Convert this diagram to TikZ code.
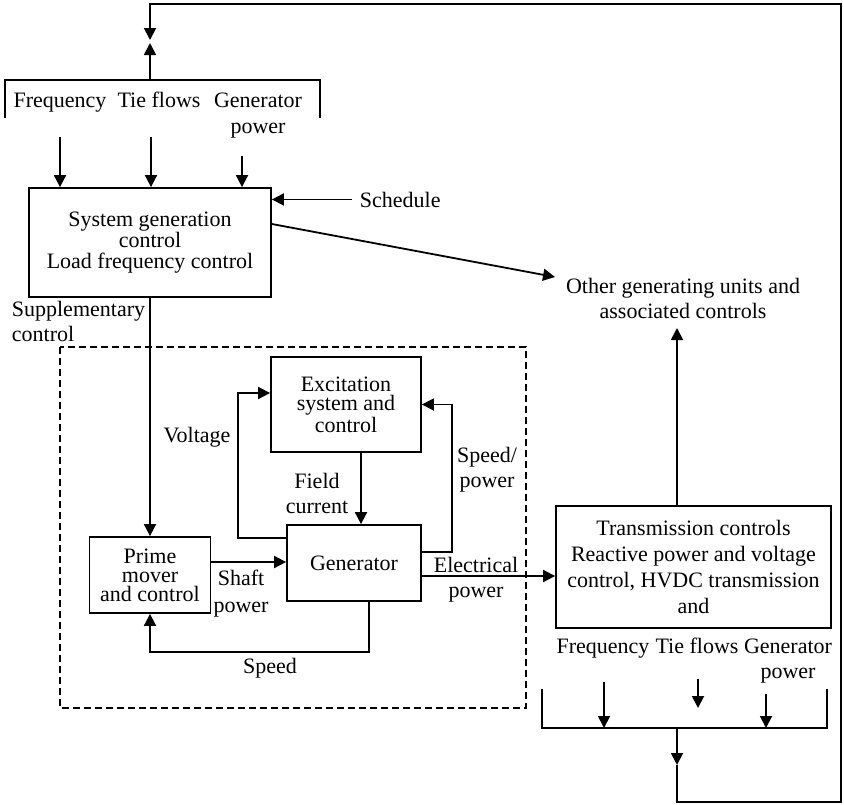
\documentclass[tikz,border=0pt]{standalone}
\usepackage{fontspec}
\setmainfont{Liberation Serif}
\usetikzlibrary{arrows.meta}

\tikzset{
  blk/.style={draw, align=center, inner sep=0pt, font=\fontsize{11}{10.5}\selectfont},
  lbl/.style={align=center, inner sep=1pt, anchor=base, font=\fontsize{11}{12.5}\selectfont},
  arr/.style={-{Triangle[length=6pt,width=6pt]}},
  grp/.style={dash pattern=on 3.5pt off 2pt},
}

\begin{document}
\begin{tikzpicture}[x=0.5pt, y=-0.5pt, line width=0.9pt]
    \useasboundingbox (0,0) rectangle (844,804);

    % Blocks
    \node[blk, minimum width=121pt, minimum height=54.5pt] (sgc) at (150,242.5) {System generation\\control\\Load frequency control};
    \node[blk, minimum width=75pt, minimum height=47.5pt, font=\fontsize{11}{9.5}\selectfont] (exc) at (346,404.5) {Excitation\\system and\\control};
    \node[blk, minimum width=67pt, minimum height=38pt] (gen) at (354,563) {Generator};
    \node[blk, minimum width=60.5pt, minimum height=38pt, font=\fontsize{11}{9.5}\selectfont] (pm) at (150,575) {Prime\\mover\\and control};
    \node[blk, minimum width=137.5pt, minimum height=61pt, font=\fontsize{11}{13}\selectfont] (tc) at (693.5,567) {Transmission controls\\Reactive power and voltage\\control, HVDC transmission\\and};

    % Labels (placed on the baseline of the last line)
    \node[lbl] (freqA) at (60,107) {Frequency};
    \node[lbl] (tieA) at (159,107) {Tie flows};
    \node[lbl, font=\fontsize{11}{13}\selectfont] (genA) at (258,133) {Generator\\power};
    \node[lbl, anchor=base west] (sched) at (357,207) {Schedule};
    \node[lbl] (ogu) at (683,318) {Other generating units and\\associated controls};
    \node[lbl, anchor=base west, align=left] (supp) at (9,341) {Supplementary\\control};
    \node[lbl] (volt) at (197,442) {Voltage};
    \node[lbl] (field) at (317,513) {Field\\current};
    \node[lbl] (spdpow) at (487,487) {Speed/\\power};
    \node[lbl, font=\fontsize{11}{13.5}\selectfont] (shaft) at (241,612) {Shaft\\power};
    \node[lbl] (elec) at (476,597) {Electrical\\power};
    \node[lbl] (speed) at (270,673) {Speed};
    \node[lbl] (freqB) at (603,653) {Frequency};
    \node[lbl] (tieB) at (697,653) {Tie flows};
    \node[lbl] (genB) at (788,678) {Generator\\power};

    % Measurement buses
    \draw (5,118) -- (5,80) -- (320,80) -- (320,118);
    \draw (542,689) -- (542,728) -- (827,728) -- (827,689);
    \coordinate (busA) at (150,80);
    \coordinate (busB) at (677,728);
    \coordinate (tipdn) at (150,40);
    \coordinate (tipup) at (150,43);
    \coordinate (fA) at (60,137);
    \coordinate (tA) at (151,137);
    \coordinate (gA) at (242,156);
    \coordinate (fB) at (604,682);
    \coordinate (tB) at (698,679);
    \coordinate (tBend) at (698,708);
    \coordinate (gB) at (766,694);
    \coordinate (oguin) at (555,277);
    \coordinate (oguup) at (677,328);
    \coordinate (loopmid) at (677,765);
    \coordinate (loopbot) at (677,802);
    \coordinate (loopcorner) at (841,4);

    % Inputs to system generation control
    \draw[arr] (fA) -- (fA |- sgc.north);
    \draw[arr] (tA) -- (tA |- sgc.north);
    \draw[arr] (gA) -- (gA |- sgc.north);
    \draw[arr] ([xshift=-2.5pt]sched.west) -- (sched.west -| sgc.east);
    \draw[arr] ([yshift=9.25pt]sgc.east) -- (oguin);
    \draw[arr] (sgc.south) -- (pm.north);

    % Unit loops
    \draw[grp] (60,347) rectangle (526,708);
    \draw[arr] ([yshift=6.5pt]pm.east) -- ([yshift=6.5pt]pm.east -| gen.west);
    \draw[arr] ([xshift=7.5pt]exc.south) -- ([xshift=7.5pt]exc.south |- gen.north);
    \draw[arr] ([yshift=12.5pt]gen.west) -- ++(-24pt,0) |- ([yshift=5.75pt]exc.west);
    \draw[arr] ([yshift=5.5pt]gen.east) -- ++(15pt,0) |- (exc.east);
    \draw[arr] ([xshift=7.5pt]gen.south) -- ++(0,-25pt) -| (pm.south);
    \draw[arr] ([yshift=-6.5pt]gen.east) -- ([yshift=-6.5pt]gen.east -| tc.west);
    \draw[arr] (oguup |- tc.north) -- (oguup);

    % Feedback from transmission side
    \draw[arr] (fB) -- (fB |- busB);
    \draw[arr] (tB) -- (tBend);
    \draw[arr] (gB) -- (gB |- busB);
    \draw[arr] (busB) -- (loopmid);
    \draw[arr] (loopmid) -- (loopbot) -| (loopcorner) -| (tipdn);
    \draw[arr] (busA) -- (tipup);
\end{tikzpicture}
\end{document}
